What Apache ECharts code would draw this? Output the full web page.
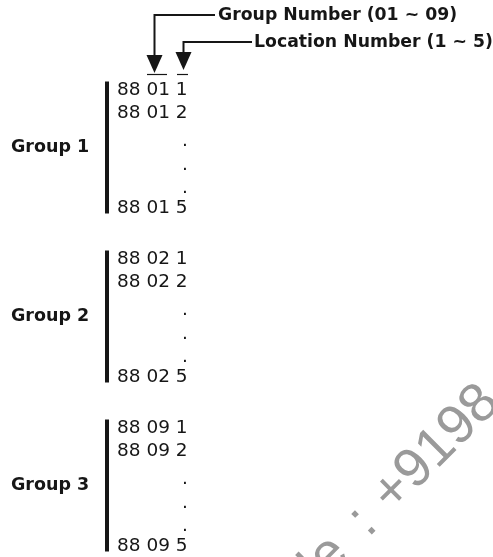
<!DOCTYPE html>
<html><head><meta charset="utf-8">
<script src="https://cdn.jsdelivr.net/npm/echarts@6/dist/echarts.min.js"></script>
<style>html,body{margin:0;padding:0;background:#fff}#c{width:493px;height:557px}</style>
</head><body><div id="c"></div>
<script>
// ---- data ----
const prefix = '88';
const groupCodes = ['01', '02', '09'];
const groupNames = ['Group 1', 'Group 2', 'Group 3'];
const locationRows = ['1', '2', '.', '.', '.', '5'];
const headerLabels = ['Group Number (01 ~ 09)', 'Location Number (1 ~ 5)'];
const watermarkParts = ['Mobile', ':', '+9198'];

// ---- layout constants ----
const W = 493, H = 557;
const ROW0 = 90, ROW_STEP = 23.6, GROUP_STEP = 169;
const CODE_X = 117, DOT_X = 188, BAR_X = 107, NAME_X = 11, DOT_DROP = 4;
const INK = '#161616';
const FONT = 'DejaVu Sans';

const groupY = g => ROW0 + g * GROUP_STEP;
const rowY = (g, r) => groupY(g) + r * ROW_STEP;

const codeData = [], dotData = [], barData = [], nameData = [];
groupCodes.forEach((code, g) => {
  locationRows.forEach((loc, r) => {
    if (loc === '.') dotData.push({ value: [DOT_X, rowY(g, r) + DOT_DROP], name: '.' });
    else codeData.push({ value: [CODE_X, rowY(g, r)], name: prefix + ' ' + code + ' ' + loc });
  });
  barData.push({ coords: [[BAR_X, groupY(g) - 8.5], [BAR_X, rowY(g, locationRows.length - 1) + 5.5]] });
  nameData.push({ value: [NAME_X, groupY(g) + 2.42 * ROW_STEP], name: groupNames[g] });
});

// annotation geometry (derived from first code row)
const topRow = rowY(0, 0);
const overY = topRow - 16;
const grpCol = [147, 167], locCol = [177, 188];
const grpX = (grpCol[0] + grpCol[1]) / 2 - 2.5, locX = (locCol[0] + locCol[1]) / 2 + 1;
const hdrY = [15, 42];
const hdrTextX = [218, 254];
const arrowTip = [topRow - 17, topRow - 20];

const arrowLines = [
  { coords: [[hdrTextX[0] - 3, hdrY[0]], [grpX, hdrY[0]], [grpX, arrowTip[0] - 15]] },
  { coords: [[hdrTextX[1] - 2, hdrY[1]], [locX, hdrY[1]], [locX, arrowTip[1] - 15]] }
];
const overLines = [
  { coords: [[grpCol[0], overY], [grpCol[1], overY]] },
  { coords: [[locCol[0], overY], [locCol[1], overY]] }
];
const heads = [
  { value: [grpX, arrowTip[0] - 9] },
  { value: [locX, arrowTip[1] - 9] }
];
const headerData = headerLabels.map((t, i) => ({ value: [hdrTextX[i], hdrY[i] + 1], name: t }));

// watermark: rotated 45deg, each part centred on its own anchor along the baseline
const WM_SIZE = 55;
const wmRef = [393, 492];               // centre of the '+' glyph
const u = [Math.SQRT1_2, -Math.SQRT1_2]; // baseline direction
const along = d => [wmRef[0] + d * u[0], wmRef[1] + d * u[1]];
const wmOffsets = [-155.7, -42.4, 61.2];
const wmData = watermarkParts.map((t, i) => ({ value: along(wmOffsets[i]), name: t }));

const textSeries = (data, label) => ({
  type: 'scatter', data, symbolSize: 0, silent: true, clip: false,
  itemStyle: { opacity: 1 },
  label: Object.assign({ show: true, position: 'inside', formatter: p => p.name, verticalAlign: 'middle',
    color: INK, fontFamily: FONT, opacity: 1 }, label)
});

const chart = echarts.init(document.getElementById('c'), null, { renderer: 'canvas' });
chart.setOption({
  animation: false,
  backgroundColor: '#fff',
  grid: { left: 0, right: 0, top: 0, bottom: 0 },
  xAxis: { type: 'value', min: 0, max: W, show: false },
  yAxis: { type: 'value', min: 0, max: H, inverse: true, show: false },
  series: [
    textSeries(wmData, { color: '#9a9a9a', fontFamily: 'Liberation Sans', fontSize: WM_SIZE, rotate: 45, align: 'center' }),
    { type: 'lines', coordinateSystem: 'cartesian2d', data: barData, silent: true,
      lineStyle: { color: INK, width: 4, opacity: 1 } },
    { type: 'lines', coordinateSystem: 'cartesian2d', polyline: true, data: arrowLines, silent: true,
      lineStyle: { color: INK, width: 2, opacity: 1, join: 'miter' } },
    { type: 'lines', coordinateSystem: 'cartesian2d', data: overLines, silent: true,
      lineStyle: { color: INK, width: 1.2, opacity: 1 } },
    { type: 'scatter', data: heads, symbol: 'triangle', symbolRotate: 180, symbolSize: [16, 18], silent: true,
      itemStyle: { color: INK, opacity: 1 } },
    textSeries(codeData, { align: 'left', fontSize: 18.5 }),
    textSeries(dotData, { align: 'right', fontSize: 18.5 }),
    textSeries(nameData, { align: 'left', fontSize: 17.5, fontWeight: 'bold' }),
    textSeries(headerData, { align: 'left', fontSize: 17.3, fontWeight: 'bold' })
  ]
});
</script></body></html>
